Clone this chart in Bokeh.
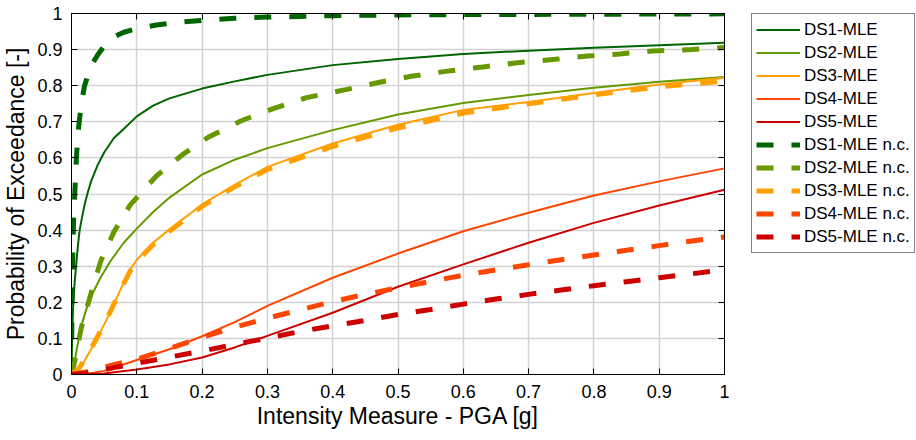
from bokeh.plotting import figure
from bokeh.layouts import row
from bokeh.models import Range1d, FixedTicker, LinearAxis, Legend, LegendItem
from bokeh.embed import file_html
from bokeh.resources import INLINE

# ---------------- data ----------------
tick_values = [0.0, 0.1, 0.2, 0.3, 0.4, 0.5, 0.6, 0.7, 0.8, 0.9, 1.0]
tick_labels = ["0", "0.1", "0.2", "0.3", "0.4", "0.5", "0.6", "0.7", "0.8", "0.9", "1"]

series_names = ["DS1-MLE", "DS2-MLE", "DS3-MLE", "DS4-MLE", "DS5-MLE",
                "DS1-MLE n.c.", "DS2-MLE n.c.", "DS3-MLE n.c.", "DS4-MLE n.c.", "DS5-MLE n.c."]

ds1_x = [0, 0.001, 0.0025, 0.005, 0.0075, 0.01, 0.0125, 0.015, 0.02, 0.025, 0.03, 0.04, 0.05,
         0.065, 0.08, 0.1, 0.125, 0.15, 0.2, 0.25, 0.3, 0.4, 0.5, 0.6, 0.7, 0.8, 0.9, 1.0]
ds1_y = [0, 0.11, 0.19, 0.26, 0.31, 0.36, 0.40, 0.425, 0.47, 0.505, 0.535, 0.58, 0.615,
         0.655, 0.68, 0.715, 0.745, 0.765, 0.792, 0.812, 0.83, 0.857, 0.874, 0.888, 0.897, 0.905, 0.912, 0.919]

ds2_x = [0, 0.003, 0.008, 0.015, 0.025, 0.033, 0.045, 0.06, 0.08, 0.1, 0.125, 0.15, 0.2, 0.25,
         0.3, 0.4, 0.5, 0.6, 0.7, 0.8, 0.9, 1.0]
ds2_y = [0, 0.014, 0.07, 0.134, 0.195, 0.227, 0.27, 0.315, 0.365, 0.404, 0.45, 0.49, 0.554, 0.595,
         0.627, 0.677, 0.72, 0.752, 0.774, 0.794, 0.811, 0.824]

ds3_x = [0, 0.01, 0.02, 0.03, 0.045, 0.06, 0.075, 0.09, 0.1, 0.125, 0.15, 0.2, 0.25, 0.3, 0.4,
         0.5, 0.6, 0.7, 0.8, 0.9, 1.0]
ds3_y = [0, 0.012, 0.038, 0.07, 0.12, 0.175, 0.235, 0.29, 0.318, 0.365, 0.402, 0.471, 0.525, 0.575, 0.64,
         0.692, 0.733, 0.755, 0.78, 0.803, 0.822]

ds4_x = [0, 0.025, 0.05, 0.1, 0.15, 0.2, 0.25, 0.3, 0.4, 0.5, 0.6, 0.7, 0.8, 0.9, 1.0]
ds4_y = [0, 0.002, 0.01, 0.04, 0.07, 0.106, 0.145, 0.19, 0.268, 0.335, 0.397, 0.448, 0.496, 0.535, 0.571]

ds5_x = [0, 0.05, 0.1, 0.15, 0.2, 0.25, 0.3, 0.4, 0.5, 0.6, 0.7, 0.8, 0.9, 1.0]
ds5_y = [0, 0.003, 0.014, 0.028, 0.047, 0.075, 0.107, 0.171, 0.243, 0.305, 0.365, 0.42, 0.468, 0.512]

ds1nc_x = [0, 0.0005, 0.001, 0.002, 0.003, 0.005, 0.0075, 0.01, 0.015, 0.02, 0.03, 0.04, 0.05,
           0.065, 0.08, 0.1, 0.13, 0.16, 0.2, 0.25, 0.3, 0.4, 0.5, 0.6, 0.8, 1.0]
ds1nc_y = [0, 0.15, 0.22, 0.33, 0.42, 0.50, 0.60, 0.67, 0.75, 0.80, 0.855, 0.885, 0.91,
           0.935, 0.948, 0.958, 0.968, 0.975, 0.981, 0.987, 0.99, 0.994, 0.996, 0.997, 0.998, 0.999]

ds2nc_x = [0, 0.005, 0.015, 0.03, 0.045, 0.065, 0.09, 0.13, 0.17, 0.21, 0.26, 0.31, 0.36, 0.42,
           0.47, 0.52, 0.57, 0.63, 0.68, 0.74, 0.79, 0.84, 0.89, 0.95, 1.0]
ds2nc_y = [0, 0.036, 0.13, 0.225, 0.315, 0.395, 0.47, 0.55, 0.609, 0.658, 0.703, 0.737, 0.767, 0.789,
           0.809, 0.826, 0.839, 0.852, 0.863, 0.873, 0.882, 0.888, 0.896, 0.90, 0.906]

ds3nc_x = [0, 0.01, 0.02, 0.03, 0.045, 0.06, 0.075, 0.09, 0.1, 0.125, 0.15, 0.2, 0.25, 0.3, 0.4,
           0.5, 0.6, 0.7, 0.8, 0.9, 1.0]
ds3nc_y = [0, 0.014, 0.04, 0.072, 0.122, 0.176, 0.234, 0.287, 0.313, 0.36, 0.397, 0.466, 0.52, 0.568, 0.632,
           0.683, 0.724, 0.75, 0.775, 0.797, 0.813]

ds4nc_x = [0, 0.02, 0.04, 0.06, 0.1, 0.15, 0.2, 0.25, 0.3, 0.35, 0.4, 0.45, 0.5, 0.55, 0.6, 0.65,
           0.7, 0.75, 0.8, 0.85, 0.9, 0.95, 1.0]
ds4nc_y = [0, 0.006, 0.015, 0.025, 0.042, 0.072, 0.103, 0.131, 0.156, 0.179, 0.202, 0.222, 0.24, 0.258,
           0.275, 0.29, 0.304, 0.318, 0.331, 0.344, 0.357, 0.37, 0.381]

ds5nc_x = [0, 0.02, 0.04, 0.065, 0.1, 0.15, 0.2, 0.25, 0.3, 0.35, 0.4, 0.45, 0.5, 0.55, 0.6, 0.65,
           0.7, 0.75, 0.8, 0.85, 0.9, 0.95, 1.0]
ds5nc_y = [0, 0.003, 0.009, 0.019, 0.031, 0.048, 0.065, 0.083, 0.101, 0.119, 0.135, 0.15, 0.166, 0.18,
           0.195, 0.209, 0.222, 0.234, 0.246, 0.257, 0.268, 0.279, 0.29]

colors = ["#006400", "#669900", "#FFA000", "#FF4500", "#CC0000"]

# ---------------- main figure ----------------
FONT = "Liberation Sans"

p = figure(frame_width=653, frame_height=361, output_backend="svg", toolbar_location=None,
           x_range=Range1d(0, 1), y_range=Range1d(0, 1),
           min_border_left=62, min_border_right=27, min_border_top=13, min_border_bottom=40)
p.background_fill_color = "white"
p.border_fill_color = "white"
p.outline_line_color = "black"
p.outline_line_width = 1

ticker = FixedTicker(ticks=tick_values)
overrides = dict(zip(tick_values, tick_labels))

for ax in (p.xaxis[0], p.yaxis[0]):
    ax.ticker = ticker
    ax.major_label_overrides = overrides
    ax.major_tick_in = 6
    ax.major_tick_out = 0
    ax.minor_tick_line_color = None
    ax.axis_line_color = "black"
    ax.major_tick_line_color = "black"
    ax.major_label_text_font = FONT
    ax.major_label_text_font_size = "18px"
    ax.major_label_text_color = "black"
    ax.axis_label_text_font = FONT
    ax.axis_label_text_font_size = "23px"
    ax.axis_label_text_font_style = "normal"
    ax.axis_label_text_color = "black"

p.xaxis.axis_label = "Intensity Measure - PGA [g]"
p.yaxis.axis_label = "Probability of Exceedance [-]"
p.xaxis.major_label_standoff = 10
p.xaxis.axis_label_standoff = 2
p.yaxis.major_label_standoff = 9
p.yaxis.axis_label_standoff = 5

# box axes (ticks only) on top and right
for side in ("above", "right"):
    bax = LinearAxis(ticker=ticker, major_label_text_font_size="1px", major_label_text_color=None,
                     major_label_standoff=0, major_tick_in=6, major_tick_out=0,
                     minor_tick_line_color=None, axis_line_color="black", major_tick_line_color="black")
    p.add_layout(bax, side)

p.xgrid.ticker = ticker
p.ygrid.ticker = ticker
for g in (p.xgrid[0], p.ygrid[0]):
    g.grid_line_color = "#d2d2d2"
    g.grid_line_width = 1.5

solid_data = [(ds1_x, ds1_y), (ds2_x, ds2_y), (ds3_x, ds3_y), (ds4_x, ds4_y), (ds5_x, ds5_y)]
dashed_data = [(ds1nc_x, ds1nc_y), (ds2nc_x, ds2nc_y), (ds3nc_x, ds3nc_y), (ds4nc_x, ds4nc_y), (ds5nc_x, ds5nc_y)]

styles = [dict(line_width=2, line_dash="solid")] * 5 + [dict(line_width=5, line_dash="17 18")] * 5
line_colors = colors + colors

for (xs, ys), c, st in zip(solid_data + dashed_data, line_colors, styles):
    p.line(xs, ys, line_color=c, line_cap="butt", **st)

# ---------------- legend panel (outside the axes, as in the reference) ----------------
# the same series are drawn here, but the panel's ranges lie outside the data, so only
# the legend (which needs renderers of its own plot) is visible
lg = figure(width=164, height=p.frame_height + 72, output_backend="svg", toolbar_location=None,
            x_axis_location=None, y_axis_location=None, x_range=Range1d(10, 11), y_range=Range1d(10, 11),
            min_border_left=0, min_border_right=0, min_border_top=13, min_border_bottom=0)
lg.outline_line_color = None
lg.xgrid.visible = False
lg.ygrid.visible = False

legend_renderers = [lg.line(xs, ys, line_color=c, line_cap="butt", **st)
                    for (xs, ys), c, st in zip(solid_data + dashed_data, line_colors, styles)]

legend = Legend(items=[LegendItem(label=n, renderers=[r]) for n, r in zip(series_names, legend_renderers)],
                location="top_left", orientation="vertical",
                label_text_font=FONT, label_text_font_size="17px", label_text_color="black",
                glyph_width=44, glyph_height=23, label_height=23, label_standoff=4,
                spacing=0, padding=4, margin=0,
                border_line_color="black", border_line_width=1,
                background_fill_color="white", background_fill_alpha=1)
lg.add_layout(legend)

layout = row(p, lg)
open("out.html", "w").write(file_html(layout, INLINE))
